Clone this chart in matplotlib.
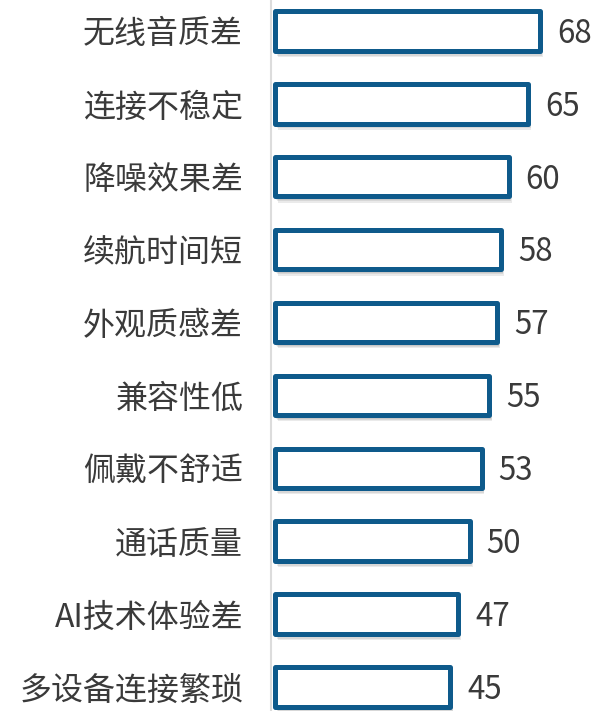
import matplotlib
matplotlib.use('Agg')
import matplotlib.pyplot as plt
import matplotlib.patheffects as pe

plt.rcParams['font.family'] = ['Noto Sans CJK SC', 'DejaVu Sans']

# data
categories = ['无线音质差', '连接不稳定', '降噪效果差', '续航时间短', '外观质感差',
              '兼容性低', '佩戴不舒适', '通话质量', 'AI技术体验差', '多设备连接繁琐']
values = [68, 65, 60, 58, 57, 55, 53, 50, 47, 45]

bar_color = '#0e5a8b'
text_color = '#3a3a3a'

fig = plt.figure(figsize=(5.95, 7.11), dpi=100)
ax = fig.add_axes([271 / 595, 0, 316 / 595, 1])

pos = list(range(len(categories)))
bars = ax.barh(pos, values, height=0.54, left=0,
               facecolor='white', edgecolor=bar_color, linewidth=3.6,
               joinstyle='round', zorder=3)
# soft drop shadow built from a few faint offset copies
shadow = [pe.SimplePatchShadow(offset=(dx, dy), shadow_rgbFace='#555555', alpha=0.12)
          for dx, dy in [(0.5, -1.5), (1.0, -2.5), (1.5, -3.5), (2.0, -4.5)]]
for b in bars:
    b.set_path_effects(shadow + [pe.Normal()])

for y, v in zip(pos, values):
    ax.annotate(str(v), xy=(v, y), xytext=(12, -2), textcoords='offset points',
                ha='left', va='center', fontsize=22.5, color=text_color)

ax.set_xlim(-1, 80)
ax.set_ylim(9.33, -0.425)
ax.set_yticks(pos)
ax.set_yticklabels(categories, fontsize=23, color=text_color)
ax.tick_params(axis='y', length=0, pad=20)
ax.set_xticks([])

for s in ['top', 'right', 'bottom']:
    ax.spines[s].set_visible(False)
ax.spines['left'].set_color('#dcdcdc')
ax.spines['left'].set_linewidth(1.5)
ax.patch.set_alpha(0)

fig.savefig('out.png', dpi=100)
